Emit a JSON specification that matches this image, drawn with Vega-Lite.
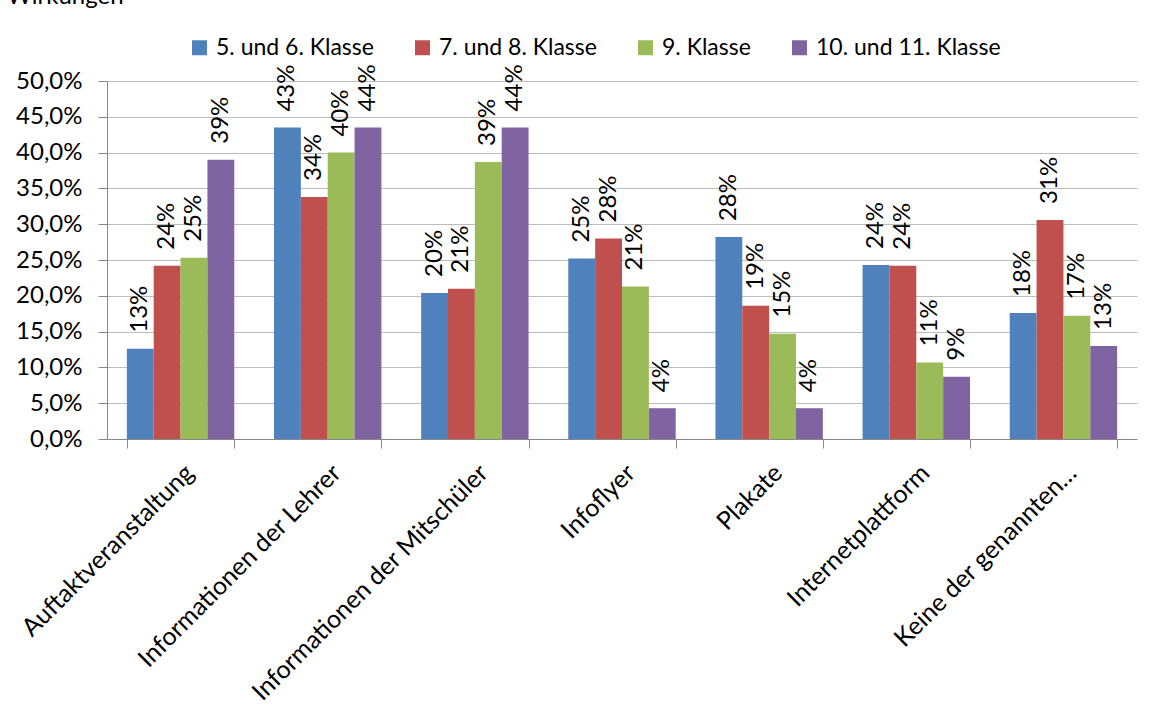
{
  "$schema": "https://vega.github.io/schema/vega-lite/v6.json",
  "autosize": "none",
  "width": 1030,
  "height": 358,
  "padding": {"left": 107, "top": 81, "right": 31, "bottom": 277},
  "background": "white",
  "title": {"text": "Wirkungen", "anchor": "start", "frame": "group", "orient": "top", "offset": 0, "baseline": "alphabetic", "dx": -100, "dy": -8, "font": "Lato", "fontSize": 24, "fontWeight": "normal", "color": "black"},
  "data": {"values": [
    {"cat": "Auftaktveranstaltung", "klasse": "5. und 6. Klasse", "v": 0.126},
    {"cat": "Auftaktveranstaltung", "klasse": "7. und 8. Klasse", "v": 0.242},
    {"cat": "Auftaktveranstaltung", "klasse": "9. Klasse", "v": 0.253},
    {"cat": "Auftaktveranstaltung", "klasse": "10. und 11. Klasse", "v": 0.390},
    {"cat": "Informationen der Lehrer", "klasse": "5. und 6. Klasse", "v": 0.4349},
    {"cat": "Informationen der Lehrer", "klasse": "7. und 8. Klasse", "v": 0.338},
    {"cat": "Informationen der Lehrer", "klasse": "9. Klasse", "v": 0.400},
    {"cat": "Informationen der Lehrer", "klasse": "10. und 11. Klasse", "v": 0.4352},
    {"cat": "Informationen der Mitschüler", "klasse": "5. und 6. Klasse", "v": 0.204},
    {"cat": "Informationen der Mitschüler", "klasse": "7. und 8. Klasse", "v": 0.210},
    {"cat": "Informationen der Mitschüler", "klasse": "9. Klasse", "v": 0.387},
    {"cat": "Informationen der Mitschüler", "klasse": "10. und 11. Klasse", "v": 0.4352},
    {"cat": "Infoflyer", "klasse": "5. und 6. Klasse", "v": 0.252},
    {"cat": "Infoflyer", "klasse": "7. und 8. Klasse", "v": 0.280},
    {"cat": "Infoflyer", "klasse": "9. Klasse", "v": 0.213},
    {"cat": "Infoflyer", "klasse": "10. und 11. Klasse", "v": 0.043},
    {"cat": "Plakate", "klasse": "5. und 6. Klasse", "v": 0.282},
    {"cat": "Plakate", "klasse": "7. und 8. Klasse", "v": 0.186},
    {"cat": "Plakate", "klasse": "9. Klasse", "v": 0.147},
    {"cat": "Plakate", "klasse": "10. und 11. Klasse", "v": 0.043},
    {"cat": "Internetplattform", "klasse": "5. und 6. Klasse", "v": 0.243},
    {"cat": "Internetplattform", "klasse": "7. und 8. Klasse", "v": 0.242},
    {"cat": "Internetplattform", "klasse": "9. Klasse", "v": 0.107},
    {"cat": "Internetplattform", "klasse": "10. und 11. Klasse", "v": 0.087},
    {"cat": "Keine der genannten…", "klasse": "5. und 6. Klasse", "v": 0.176},
    {"cat": "Keine der genannten…", "klasse": "7. und 8. Klasse", "v": 0.306},
    {"cat": "Keine der genannten…", "klasse": "9. Klasse", "v": 0.172},
    {"cat": "Keine der genannten…", "klasse": "10. und 11. Klasse", "v": 0.130}
  ]},
  "encoding": {
    "x": {"field": "cat", "type": "nominal", "sort": null, "title": null,
      "scale": {"paddingInner": 0.27, "paddingOuter": 0.135},
      "axis": {"tickBand": "extent", "tickSize": 9, "tickColor": "#888888", "domainColor": "#888888", "labelAngle": -45, "labelPadding": 12, "labelDx": -6, "labelDy": -2, "labelFontSize": 25, "labelLimit": 0, "grid": false}},
    "xOffset": {"field": "klasse", "type": "nominal", "sort": ["5. und 6. Klasse", "7. und 8. Klasse", "9. Klasse", "10. und 11. Klasse"], "scale": {"paddingInner": 0, "paddingOuter": 0}},
    "y": {"field": "v", "type": "quantitative", "title": null,
      "scale": {"domain": [0, 0.5], "nice": false},
      "axis": {"values": [0, 0.05, 0.1, 0.15, 0.2, 0.25, 0.3, 0.35, 0.4, 0.45, 0.5], "format": ".1%", "tickSize": 9, "tickColor": "#888888", "domainColor": "#888888", "gridColor": "#bdbdbd", "labelPadding": 16}}
  },
  "layer": [
    {"mark": {"type": "bar"},
      "encoding": {
        "color": {"field": "klasse", "type": "nominal", "sort": ["5. und 6. Klasse", "7. und 8. Klasse", "9. Klasse", "10. und 11. Klasse"],
          "scale": {"range": ["#4F81BD", "#C0504D", "#9BBB59", "#8064A2"]},
          "legend": {"orient": "none", "legendX": 81, "legendY": -45, "direction": "horizontal", "title": null, "symbolType": "square", "symbolSize": 225, "symbolStrokeWidth": 0, "labelFontSize": 23, "labelFont": "Lato", "labelColor": "black", "labelLimit": 0, "columnPadding": 37, "labelOffset": 5}}
      }},
    {"mark": {"type": "text", "angle": 270, "align": "left", "baseline": "middle", "dx": 16, "font": "Lato", "fontSize": 24, "color": "black"},
      "encoding": {"text": {"field": "v", "type": "quantitative", "format": ".0%"}}}
  ],
  "config": {
    "locale": {"number": {"decimal": ",", "thousands": ".", "grouping": [3], "currency": ["", " €"]}},
    "view": {"stroke": null},
    "axis": {"labelFont": "Lato", "labelFontSize": 24, "labelColor": "black", "domainWidth": 1, "tickWidth": 1}
  }
}
